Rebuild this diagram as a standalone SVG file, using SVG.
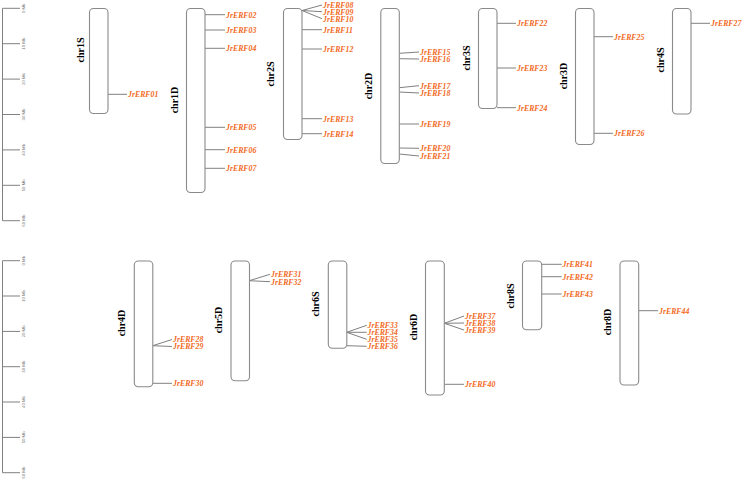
<svg xmlns="http://www.w3.org/2000/svg" width="745" height="480" viewBox="0 0 745 480">
<style>
.chr{fill:#fff;stroke:#8a8a8a;stroke-width:1.1}
.cl{font-family:"Liberation Serif",serif;font-weight:bold;font-size:10px;fill:#000;text-anchor:middle}
.g{font-family:"Liberation Serif",serif;font-weight:bold;font-style:italic;font-size:7.8px;fill:#f26a1e}
.ln line{stroke:#808080;stroke-width:1}
.sc line{stroke:#808080;stroke-width:1}
.st{font-family:"Liberation Sans",sans-serif;font-size:4.3px;fill:#777;text-anchor:middle}
</style>
<rect width="745" height="480" fill="#fff"/>
<g id="scale-top" class="sc">
<line x1="2.5" y1="8.3" x2="2.5" y2="220.7"/>
<line x1="2.5" y1="8.3" x2="20" y2="8.3"/>
<line x1="2.5" y1="43.7" x2="20" y2="43.7"/>
<line x1="2.5" y1="79.1" x2="20" y2="79.1"/>
<line x1="2.5" y1="114.5" x2="20" y2="114.5"/>
<line x1="2.5" y1="149.9" x2="20" y2="149.9"/>
<line x1="2.5" y1="185.3" x2="20" y2="185.3"/>
<line x1="2.5" y1="220.7" x2="20" y2="220.7"/>
<text class="st" transform="translate(25,8.3) rotate(-90)">0 Mb</text>
<text class="st" transform="translate(25,43.7) rotate(-90)">10 Mb</text>
<text class="st" transform="translate(25,79.1) rotate(-90)">20 Mb</text>
<text class="st" transform="translate(25,114.5) rotate(-90)">30 Mb</text>
<text class="st" transform="translate(25,149.9) rotate(-90)">40 Mb</text>
<text class="st" transform="translate(25,185.3) rotate(-90)">50 Mb</text>
<text class="st" transform="translate(25,220.7) rotate(-90)">60 Mb</text>
</g>
<g id="scale-bottom" class="sc">
<line x1="2.5" y1="260.7" x2="2.5" y2="472.7"/>
<line x1="2.5" y1="260.7" x2="20" y2="260.7"/>
<line x1="2.5" y1="296.0" x2="20" y2="296.0"/>
<line x1="2.5" y1="331.4" x2="20" y2="331.4"/>
<line x1="2.5" y1="366.7" x2="20" y2="366.7"/>
<line x1="2.5" y1="402.0" x2="20" y2="402.0"/>
<line x1="2.5" y1="437.4" x2="20" y2="437.4"/>
<line x1="2.5" y1="472.7" x2="20" y2="472.7"/>
<text class="st" transform="translate(25,260.7) rotate(-90)">0 Mb</text>
<text class="st" transform="translate(25,296.0) rotate(-90)">10 Mb</text>
<text class="st" transform="translate(25,331.4) rotate(-90)">20 Mb</text>
<text class="st" transform="translate(25,366.7) rotate(-90)">30 Mb</text>
<text class="st" transform="translate(25,402.0) rotate(-90)">40 Mb</text>
<text class="st" transform="translate(25,437.4) rotate(-90)">50 Mb</text>
<text class="st" transform="translate(25,472.7) rotate(-90)">60 Mb</text>
</g>
<g id="connectors" class="ln">
<line x1="108" y1="94.3" x2="127" y2="94.3"/>
<line x1="205" y1="14.7" x2="225" y2="14.7"/>
<line x1="205" y1="30" x2="225" y2="30"/>
<line x1="205" y1="48.3" x2="225" y2="48.3"/>
<line x1="205" y1="127.3" x2="225" y2="127.3"/>
<line x1="205" y1="149.7" x2="225" y2="149.7"/>
<line x1="205" y1="168.3" x2="225" y2="168.3"/>
<line x1="302" y1="10.5" x2="322" y2="5"/>
<line x1="302" y1="10.5" x2="322" y2="11.7"/>
<line x1="302" y1="10.5" x2="322" y2="18.7"/>
<line x1="302" y1="29.7" x2="322" y2="29.7"/>
<line x1="302" y1="49" x2="322" y2="49"/>
<line x1="302" y1="118.7" x2="322" y2="118.7"/>
<line x1="302" y1="133.7" x2="322" y2="133.7"/>
<line x1="399.3" y1="53.3" x2="419" y2="52"/>
<line x1="399.3" y1="58.7" x2="419" y2="59"/>
<line x1="399.3" y1="87.7" x2="419" y2="85.7"/>
<line x1="399.3" y1="92" x2="419" y2="93"/>
<line x1="399.3" y1="124" x2="419" y2="124"/>
<line x1="399.3" y1="148" x2="419" y2="148.3"/>
<line x1="399.3" y1="154" x2="419" y2="156"/>
<line x1="497" y1="23.3" x2="516" y2="23.3"/>
<line x1="497" y1="68" x2="516" y2="68"/>
<line x1="497" y1="107.7" x2="516" y2="107.7"/>
<line x1="594" y1="36.7" x2="613" y2="36.7"/>
<line x1="594" y1="133.3" x2="613" y2="133.3"/>
<line x1="691" y1="23.3" x2="710" y2="23.3"/>
<line x1="152.7" y1="345.7" x2="172" y2="339.5"/>
<line x1="152.7" y1="345.7" x2="172" y2="346.5"/>
<line x1="152.7" y1="383.3" x2="172" y2="383.3"/>
<line x1="249.3" y1="280.7" x2="270" y2="274.3"/>
<line x1="249.3" y1="280.7" x2="270" y2="281.7"/>
<line x1="346.7" y1="332.3" x2="366.7" y2="325.3"/>
<line x1="346.7" y1="332.3" x2="366.7" y2="332.3"/>
<line x1="346.7" y1="332.3" x2="366.7" y2="339.3"/>
<line x1="346.7" y1="345.7" x2="366.7" y2="346.3"/>
<line x1="444.3" y1="323.3" x2="464" y2="316"/>
<line x1="444.3" y1="323.3" x2="464" y2="323"/>
<line x1="444.3" y1="323.3" x2="464" y2="330"/>
<line x1="444.3" y1="384.3" x2="464" y2="384.3"/>
<line x1="541.7" y1="264.3" x2="561.7" y2="264.3"/>
<line x1="541.7" y1="276.7" x2="561.7" y2="276.7"/>
<line x1="541.7" y1="294" x2="561.7" y2="294"/>
<line x1="638.7" y1="310.7" x2="658" y2="310.7"/>
</g>
<g id="chr1S">
<rect class="chr" x="89.5" y="8.5" width="18.5" height="105" rx="4"/>
<text class="cl" transform="translate(83.5,50) rotate(-90)">chr1S</text>
<text class="g" x="128" y="97.1">JrERF01</text>
</g>
<g id="chr1D">
<rect class="chr" x="186.5" y="8.5" width="18.5" height="184" rx="4"/>
<text class="cl" transform="translate(177.5,100) rotate(-90)">chr1D</text>
<text class="g" x="226" y="17.5">JrERF02</text>
<text class="g" x="226" y="32.8">JrERF03</text>
<text class="g" x="226" y="51.1">JrERF04</text>
<text class="g" x="226" y="130.1">JrERF05</text>
<text class="g" x="226" y="152.5">JrERF06</text>
<text class="g" x="226" y="171.1">JrERF07</text>
</g>
<g id="chr2S">
<rect class="chr" x="283.5" y="8.5" width="18.5" height="131" rx="4"/>
<text class="cl" transform="translate(274,74) rotate(-90)">chr2S</text>
<text class="g" x="323" y="7.5">JrERF08</text>
<text class="g" x="323" y="14.5">JrERF09</text>
<text class="g" x="323" y="21.5">JrERF10</text>
<text class="g" x="323" y="32.5">JrERF11</text>
<text class="g" x="323" y="51.8">JrERF12</text>
<text class="g" x="323" y="121.5">JrERF13</text>
<text class="g" x="323" y="136.5">JrERF14</text>
</g>
<g id="chr2D">
<rect class="chr" x="380.8" y="8.5" width="18.5" height="155" rx="4"/>
<text class="cl" transform="translate(371.5,86) rotate(-90)">chr2D</text>
<text class="g" x="420" y="54.8">JrERF15</text>
<text class="g" x="420" y="61.8">JrERF16</text>
<text class="g" x="420" y="88.5">JrERF17</text>
<text class="g" x="420" y="95.8">JrERF18</text>
<text class="g" x="420" y="126.8">JrERF19</text>
<text class="g" x="420" y="151.1">JrERF20</text>
<text class="g" x="420" y="158.8">JrERF21</text>
</g>
<g id="chr3S">
<rect class="chr" x="478.5" y="8.5" width="18.5" height="100" rx="4"/>
<text class="cl" transform="translate(469.5,58) rotate(-90)">chr3S</text>
<text class="g" x="517" y="26.1">JrERF22</text>
<text class="g" x="517" y="70.8">JrERF23</text>
<text class="g" x="517" y="110.5">JrERF24</text>
</g>
<g id="chr3D">
<rect class="chr" x="575.5" y="8.5" width="18.5" height="136" rx="4"/>
<text class="cl" transform="translate(566.5,76) rotate(-90)">chr3D</text>
<text class="g" x="614" y="39.5">JrERF25</text>
<text class="g" x="614" y="136.1">JrERF26</text>
</g>
<g id="chr4S">
<rect class="chr" x="672.5" y="8.5" width="18.5" height="105.5" rx="4"/>
<text class="cl" transform="translate(663.5,60) rotate(-90)">chr4S</text>
<text class="g" x="711" y="26.1">JrERF27</text>
</g>
<g id="chr4D">
<rect class="chr" x="134.3" y="261" width="18.5" height="125.7" rx="4"/>
<text class="cl" transform="translate(124.5,323) rotate(-90)">chr4D</text>
<text class="g" x="173" y="342.3">JrERF28</text>
<text class="g" x="173" y="349.3">JrERF29</text>
<text class="g" x="173" y="386.1">JrERF30</text>
</g>
<g id="chr5D">
<rect class="chr" x="231" y="261" width="18.5" height="119.7" rx="4"/>
<text class="cl" transform="translate(222,320) rotate(-90)">chr5D</text>
<text class="g" x="271" y="277.1">JrERF31</text>
<text class="g" x="271" y="284.5">JrERF32</text>
</g>
<g id="chr6S">
<rect class="chr" x="328.3" y="261" width="18.5" height="87.3" rx="4"/>
<text class="cl" transform="translate(319,304) rotate(-90)">chr6S</text>
<text class="g" x="367.5" y="328.1">JrERF33</text>
<text class="g" x="367.5" y="335.1">JrERF34</text>
<text class="g" x="367.5" y="342.1">JrERF35</text>
<text class="g" x="367.5" y="349.1">JrERF36</text>
</g>
<g id="chr6D">
<rect class="chr" x="425.5" y="261" width="18.8" height="134" rx="4"/>
<text class="cl" transform="translate(416.5,327) rotate(-90)">chr6D</text>
<text class="g" x="465" y="318.8">JrERF37</text>
<text class="g" x="465" y="325.8">JrERF38</text>
<text class="g" x="465" y="332.8">JrERF39</text>
<text class="g" x="465" y="387.1">JrERF40</text>
</g>
<g id="chr8S">
<rect class="chr" x="522.5" y="261" width="19.2" height="68.7" rx="4"/>
<text class="cl" transform="translate(514,296) rotate(-90)">chr8S</text>
<text class="g" x="562.5" y="267.1">JrERF41</text>
<text class="g" x="562.5" y="279.5">JrERF42</text>
<text class="g" x="562.5" y="296.8">JrERF43</text>
</g>
<g id="chr8D">
<rect class="chr" x="620" y="261" width="18.7" height="124" rx="4"/>
<text class="cl" transform="translate(610.5,322) rotate(-90)">chr8D</text>
<text class="g" x="659" y="313.5">JrERF44</text>
</g>
</svg>
